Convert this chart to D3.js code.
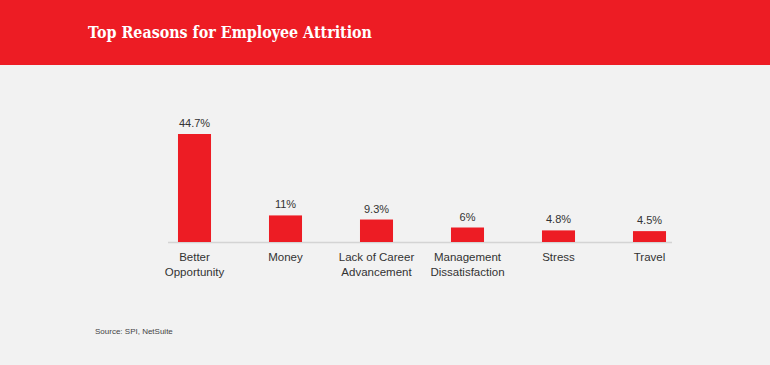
<!DOCTYPE html>
<html><head><meta charset="utf-8">
<script src="https://cdn.jsdelivr.net/npm/d3@7"></script>
<style>
html,body{margin:0;padding:0;background:#f2f2f2;}
svg{display:block;}
</style></head>
<body><svg id="c" width="770" height="365"></svg>
<script>
const categories = [["Better","Opportunity"],["Money"],["Lack of Career","Advancement"],["Management","Dissatisfaction"],["Stress"],["Travel"]];
const values = [44.7, 11, 9.3, 6, 4.8, 4.5];
const valueLabels = ["44.7%","11%","9.3%","6%","4.8%","4.5%"];
const title = "Top Reasons for Employee Attrition";
const source = "Source: SPI, NetSuite";

const red = "#ed1c24";
const svg = d3.select("#c");
svg.append("rect").attr("width",770).attr("height",365).attr("fill","#f2f2f2");
svg.append("rect").attr("width",770).attr("height",65).attr("fill",red);
svg.append("text").attr("x",88).attr("y",38)
  .attr("font-family","'DejaVu Serif', serif").attr("font-weight","bold")
  .attr("font-size",16).attr("fill","#fff").attr("textLength",284).attr("lengthAdjust","spacingAndGlyphs").text(title);

const idx = d3.range(values.length);
const x = d3.scaleBand().domain(idx).range([149,695]).paddingInner(0.637).paddingOuter(0.3185);
const y = d3.scaleLinear().domain([0,44.7]).range([242,134]);

svg.append("line").attr("x1",168).attr("x2",672).attr("y1",242.5).attr("y2",242.5)
  .attr("stroke","#d4d4d4").attr("stroke-width",1.5);

svg.selectAll("rect.bar").data(idx).enter().append("rect").attr("class","bar")
  .attr("x",i=>x(i)).attr("width",x.bandwidth())
  .attr("y",i=>y(values[i])).attr("height",i=>y(0)-y(values[i])).attr("fill",red);

const font = "'Liberation Sans', Arial, sans-serif";
svg.selectAll("text.val").data(idx).enter().append("text").attr("class","val")
  .attr("x",i=>x(i)+x.bandwidth()/2).attr("y",i=>y(values[i])-7)
  .attr("text-anchor","middle").attr("font-family",font).attr("font-size",11).attr("fill","#333")
  .text(i=>valueLabels[i]);

const cat = svg.selectAll("text.cat").data(idx).enter().append("text").attr("class","cat")
  .attr("text-anchor","middle").attr("font-family",font).attr("font-size",11.5).attr("fill","#333");
cat.each(function(i){
  const t = d3.select(this);
  categories[i].forEach((line,k)=>{
    t.append("tspan").attr("x",x(i)+x.bandwidth()/2).attr("y",261+k*14.5).text(line);
  });
});

svg.append("text").attr("x",95).attr("y",334).attr("font-family",font).attr("font-size",8)
  .attr("fill","#444").text(source);
</script></body></html>
